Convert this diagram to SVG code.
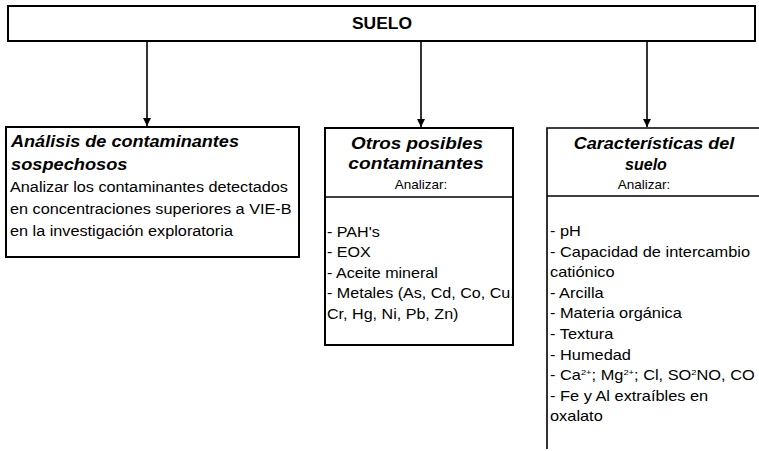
<svg xmlns="http://www.w3.org/2000/svg" width="759" height="451" viewBox="0 0 759 451">
<style>
text{font-family:"Liberation Sans",Arial,sans-serif;fill:#000}
.ttl{font-size:16px;font-weight:bold;font-style:italic}
.body{font-size:14px}
.sub{font-size:13.5px}
.box{fill:#fff;stroke:#000;stroke-width:2}
.ln{fill:none;stroke:#000;stroke-width:1.6}
</style>
<defs>
<marker id="ah" viewBox="0 0 10 10" refX="10" refY="5" markerWidth="8" markerHeight="8" markerUnits="userSpaceOnUse" orient="auto">
<path d="M0,0 L10,5 L0,10 z" fill="#000"/>
</marker>
</defs>
<g id="suelo">
<rect class="box" x="8" y="6" width="747" height="35"/>
<text x="382" y="29" text-anchor="middle" font-size="16" font-weight="bold" textLength="60" lengthAdjust="spacingAndGlyphs">SUELO</text>
</g>
<g id="connectors">
<line class="ln" x1="147" y1="41" x2="147" y2="126" marker-end="url(#ah)"/>
<line class="ln" x1="421" y1="41" x2="421" y2="127" marker-end="url(#ah)"/>
<line class="ln" x1="647" y1="41" x2="647" y2="127" marker-end="url(#ah)"/>
</g>
<g id="analisis">
<rect class="box" x="6" y="127" width="293" height="130"/>
<text class="ttl" transform="translate(11,147) scale(1.13,1)">Análisis de contaminantes</text>
<text class="ttl" transform="translate(11,170) scale(1.14,1)">sospechosos</text>
<g transform="translate(10,0) scale(1.16,1)">
<text class="body" x="0" y="192">Analizar los contaminantes detectados</text>
<text class="body" x="0" y="214">en concentraciones superiores a VIE-B</text>
<text class="body" x="0" y="236">en la investigación exploratoria</text>
</g>
</g>
<g id="otros">
<rect class="box" x="325" y="128" width="188" height="217" stroke-width="1.6"/>
<line class="ln" x1="325" y1="197" x2="513" y2="197"/>
<text class="ttl" text-anchor="middle" transform="translate(417,149) scale(1.18,1)">Otros posibles</text>
<text class="ttl" text-anchor="middle" transform="translate(416,169) scale(1.2,1)">contaminantes</text>
<text class="sub" x="421" y="189" text-anchor="middle">Analizar:</text>
<g transform="translate(327,0) scale(1.15,1)">
<text class="body" x="0" y="237">- PAH's</text>
<text class="body" x="0" y="257.5">- EOX</text>
<text class="body" x="0" y="278">- Aceite mineral</text>
<text class="body" x="0" y="298.5">- Metales (As, Cd, Co, Cu,</text>
<text class="body" x="0" y="319">Cr, Hg, Ni, Pb, Zn)</text>
</g>
</g>
<g id="caracteristicas">
<path class="ln" d="M759,128 H547 V449 M547,196 H759" stroke-width="1.8"/>
<text class="ttl" text-anchor="middle" transform="translate(654,149) scale(1.13,1)">Características del</text>
<text class="ttl" x="646" y="170" text-anchor="middle">suelo</text>
<text class="sub" x="644" y="189" text-anchor="middle">Analizar:</text>
<g transform="translate(550,0) scale(1.17,1)">
<text class="body" x="0" y="236">- pH</text>
<text class="body" x="0" y="256.6">- Capacidad de intercambio</text>
<text class="body" x="0" y="277">catiónico</text>
<text class="body" x="0" y="297.8">- Arcilla</text>
<text class="body" x="0" y="318.4">- Materia orgánica</text>
<text class="body" x="0" y="339">- Textura</text>
<text class="body" x="0" y="359.6">- Humedad</text>
<text class="body" x="0" y="380.2">- Ca<tspan font-size="8" dy="-5">2+</tspan><tspan dy="5">; Mg</tspan><tspan font-size="8" dy="-5">2+</tspan><tspan dy="5">; Cl, SO</tspan><tspan font-size="8" dy="-5">2</tspan><tspan dy="5">NO, CO</tspan></text>
<text class="body" x="0" y="400.8">- Fe y Al extraíbles en</text>
<text class="body" x="0" y="421.4">oxalato</text>
</g>
</g>
</svg>
